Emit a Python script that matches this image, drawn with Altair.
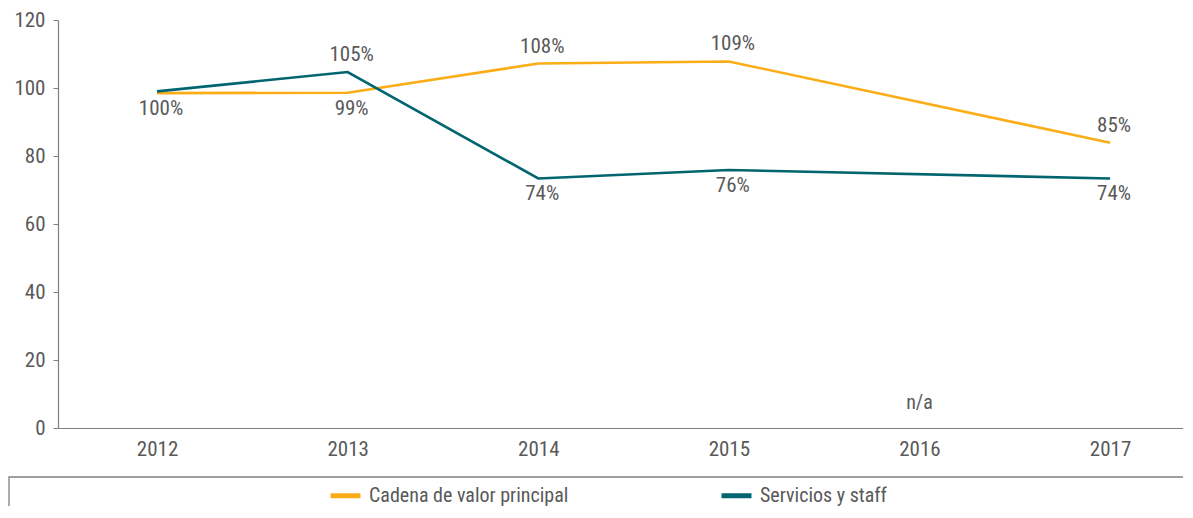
import altair as alt
import pandas as pd

years = ["2012", "2013", "2014", "2015", "2016", "2017"]
series_names = ["Cadena de valor principal", "Servicios y staff"]
cadena = [98.5, 98.6, 107.2, 107.8, None, 83.9]
cadena_labels = ["100%", "99%", "108%", "109%", None, "85%"]
servicios = [99.0, 104.7, 73.4, 75.9, None, 73.4]
servicios_labels = [None, "105%", "74%", "76%", None, "74%"]
na_years = ["2016"]
na_texts = ["n/a"]
y_ticks = [0, 20, 40, 60, 80, 100, 120]

FONT = "Roboto Condensed, Liberation Sans Narrow, Arial Narrow, DejaVu Sans Condensed, sans-serif"
GREY = "#595959"
ORANGE = "#FBAD18"
TEAL = "#00656F"

rows = []
for name, vals, labs in [(series_names[0], cadena, cadena_labels),
                         (series_names[1], servicios, servicios_labels)]:
    for yr, v, lb in zip(years, vals, labs):
        if v is None:
            continue
        rows.append({"year": yr, "series": name, "value": v, "label": lb or ""})
df = pd.DataFrame(rows)
df["pos"] = df.apply(
    lambda r: "above" if r["value"] == df[df["year"] == r["year"]]["value"].max() else "below",
    axis=1)

na_df = pd.DataFrame({"year": na_years, "text": na_texts, "value": [0] * len(na_years)})

W, H = 1125, 408

x_enc = alt.X("year:O", scale=alt.Scale(type="point", domain=years, padding=0.451, align=0.576),
              axis=alt.Axis(title=None, labelAngle=0, ticks=False, labelPadding=10,
                            labelFontSize=21, labelColor=GREY, labelFont=FONT,
                            domainColor="#808080", domainWidth=1.2))
y_enc = alt.Y("value:Q", scale=alt.Scale(domain=[0, 120], nice=False),
              axis=alt.Axis(title=None, values=y_ticks, grid=False, tickSize=5,
                            tickColor="#808080", labelPadding=8,
                            labelFontSize=21, labelColor=GREY, labelFont=FONT,
                            domainColor="#808080", domainWidth=1.2))

color_enc = alt.Color("series:N",
                      scale=alt.Scale(domain=series_names, range=[ORANGE, TEAL]),
                      legend=alt.Legend(title=None, orient="none", legendX=270, legendY=458,
                                        padding=0,
                                        direction="horizontal", symbolType="stroke",
                                        symbolStrokeWidth=5, symbolSize=900,
                                        labelFontSize=20, labelFont=FONT, labelColor=GREY,
                                        labelLimit=400, labelOffset=6, columnPadding=142))

base = alt.Chart(df)

lines = base.mark_line(strokeWidth=2.6).encode(x=x_enc, y=y_enc, color=color_enc,
                                                order=alt.Order("year:O"))

text_above = base.transform_filter(alt.datum.pos == "above").mark_text(
    dy=-17, dx=4, fontSize=21, font=FONT, color=GREY, baseline="middle"
).encode(x=alt.X("year:O"), y=alt.Y("value:Q"), text="label:N")

text_below = base.transform_filter(alt.datum.pos == "below").mark_text(
    dy=16, dx=4, fontSize=21, font=FONT, color=GREY, baseline="middle"
).encode(x=alt.X("year:O"), y=alt.Y("value:Q"), text="label:N")

na_text = alt.Chart(na_df).mark_text(
    dy=-25, fontSize=20, font=FONT, color=GREY, baseline="middle"
).encode(x=alt.X("year:O"), y=alt.Y("value:Q"), text="text:N")

legend_box = alt.Chart(na_df).mark_rect(fillOpacity=0, stroke="#808080", strokeWidth=1.3).encode(
    x=alt.value(-49), x2=alt.value(W + 30), y=alt.value(457), y2=alt.value(H + 200))

chart = alt.layer(legend_box, lines, text_above, text_below, na_text).properties(
    width=W, height=H,
    background="white",
    autosize=alt.AutoSizeParams(type="none"),
    padding={"left": 50, "top": 12, "right": 0, "bottom": 78},
).configure_view(stroke=None, strokeWidth=0)

chart.save("out.html", embed_options={"renderer": "svg", "actions": False})
